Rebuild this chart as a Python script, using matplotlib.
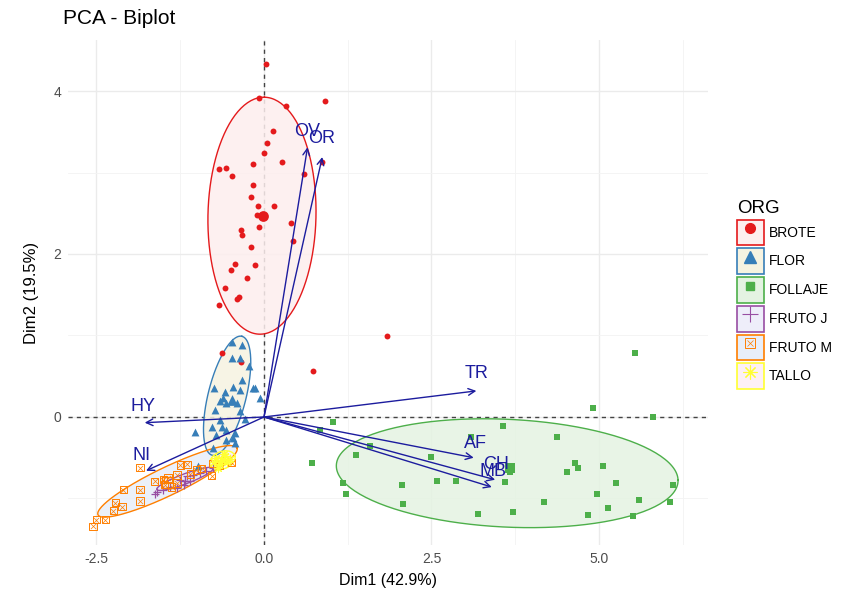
import matplotlib.pyplot as plt
import numpy as np
from matplotlib.lines import Line2D
from matplotlib.patches import Patch

plt.rcParams['font.family'] = ['Liberation Sans', 'DejaVu Sans']

# groups, colours (Set1) and ellipse fills
groups = ['BROTE', 'FLOR', 'FOLLAJE', 'FRUTO J', 'FRUTO M', 'TALLO']
colors = ['#E41A1C', '#377EB8', '#4DAF4A', '#984EA3', '#FF7F00', '#FFFF33']
fills = ['#fdeeee', '#f6f3e1', '#e4f3e2', '#eeeefa', '#e8eef8', '#fdf0f6']

# individuals (Dim1, Dim2)
brote_x = [0.03, -0.07, 0.33, 0.91, 0.14, 0.05, 0.00, 0.87, -0.67, -0.57, -0.17, 0.27,
           -0.47, 0.59, -0.16, -0.19, -0.09, 0.15, -0.11, -0.07, 0.41, -0.34, -0.33,
           0.43, -0.19, -0.43, -0.13, -0.49, -0.26, -0.58, -0.37, -0.40, -0.67, 1.84,
           0.73, -0.62, -0.35]
brote_y = [4.33, 3.92, 3.82, 3.88, 3.51, 3.36, 3.24, 3.13, 3.04, 3.05, 3.10, 3.13,
           2.96, 2.98, 2.85, 2.70, 2.59, 2.59, 2.48, 2.33, 2.38, 2.30, 2.23,
           2.16, 2.09, 1.88, 1.87, 1.80, 1.71, 1.58, 1.47, 1.45, 1.37, 0.99,
           0.56, 0.79, 0.68]

flor_x = [-0.48, -0.33, -0.48, -0.36, -0.23, -0.33, -0.74, -0.46, -0.16, -0.58, -0.36,
          -0.06, -0.61, -0.66, -0.56, -0.41, -0.73, -0.36, -0.78, -0.63, -0.56, -1.03,
          -0.43, -0.71, -0.46, -0.76, -0.98, -0.56, -0.66, -0.28, -0.43, -0.13]
flor_y = [0.92, 0.88, 0.72, 0.72, 0.62, 0.45, 0.35, 0.37, 0.35, 0.31, 0.33,
          0.23, 0.23, 0.19, 0.17, 0.17, 0.09, 0.07, -0.12, -0.12, -0.16, -0.18,
          -0.20, -0.22, -0.26, -0.38, -0.60, -0.28, -0.04, -0.02, -0.32, 0.35]

follaje_x = [5.54, 4.91, 5.81, 1.03, 3.56, 0.83, 4.38, 3.09, 1.58, 1.38, 2.50, 0.71,
             4.64, 4.69, 4.52, 5.06, 3.67, 1.18, 2.06, 2.58, 2.86, 3.59, 6.11, 5.26,
             1.23, 4.97, 5.60, 4.18, 6.06, 2.07, 5.14, 3.71, 3.20, 4.83, 5.51]
follaje_y = [0.78, 0.11, 0.00, -0.06, -0.11, -0.16, -0.25, -0.24, -0.36, -0.47, -0.49, -0.56,
             -0.56, -0.62, -0.67, -0.60, -0.67, -0.81, -0.84, -0.79, -0.79, -0.80, -0.83, -0.81,
             -0.94, -0.95, -1.02, -1.04, -1.04, -1.07, -1.12, -1.16, -1.19, -1.20, -1.22]

frutoj_x = [-1.60, -1.50, -1.40, -1.25, -1.15, -1.06, -0.96, -0.86, -1.20, -1.30, -1.10, -1.63, -0.76]
frutoj_y = [-0.92, -0.89, -0.86, -0.77, -0.73, -0.71, -0.69, -0.66, -0.83, -0.87, -0.79, -0.94, -0.63]

frutom_x = [-1.85, -1.25, -1.15, -1.63, -1.50, -1.43, -1.30, -1.48, -1.38, -1.85, -2.10, -1.30,
            -0.66, -0.56, -0.48, -0.76, -2.22, -2.12, -1.85, -2.25, -2.50, -2.55, -2.37,
            -0.93, -0.78, -1.01, -1.10]
frutom_y = [-0.62, -0.59, -0.58, -0.79, -0.77, -0.75, -0.71, -0.83, -0.86, -0.89, -0.89, -0.81,
            -0.59, -0.53, -0.56, -0.57, -1.05, -1.10, -1.03, -1.15, -1.26, -1.34, -1.26,
            -0.63, -0.72, -0.65, -0.70]

tallo_x = [-0.72, -0.60, -0.55, -0.65, -0.50, -0.68, -0.58, -0.75]
tallo_y = [-0.50, -0.45, -0.55, -0.58, -0.52, -0.62, -0.48, -0.55]

# group mean points
cent_x = [-0.01, -0.48, 3.67, -1.18, -1.44, -0.62]
cent_y = [2.47, 0.21, -0.62, -0.78, -0.80, -0.53]

# concentration ellipses: centre and two conjugate semi-axes
ell_cx = [-0.03, -0.55, 3.63, -1.18, -1.44, -0.62]
ell_cy = [2.47, 0.26, -0.69, -0.76, -0.79, -0.53]
ell_ux = [0.037, 0.221, 2.55, 0.42, 1.037, 0.187]
ell_uy = [1.454, 0.730, -0.082, 0.13, 0.411, 0.049]
ell_vx = [0.806, 0.275, 0.031, 0.027, 0.091, 0.03]
ell_vy = [-0.014, -0.056, -0.663, -0.057, -0.155, -0.104]

# variables (arrow tips and label positions)
var_names = ['OV', 'OR', 'TR', 'AF', 'CH', 'MB', 'HY', 'NI']
var_x = [0.65, 0.87, 3.17, 3.13, 3.45, 3.40, -1.78, -1.76]
var_y = [3.31, 3.19, 0.32, -0.50, -0.77, -0.86, -0.07, -0.66]
lab_x = [0.64, 0.86, 3.17, 3.15, 3.47, 3.42, -1.80, -1.83]
lab_y = [3.50, 3.42, 0.53, -0.33, -0.58, -0.67, 0.13, -0.47]

arrow_col = '#1c1c9e'

fig = plt.figure(figsize=(8.41, 5.95), dpi=100)
ax = fig.add_axes([68 / 841, 1 - 545 / 595, 640 / 841, 505 / 595])

ax.set_xlim(-2.925, 6.627)
ax.set_ylim(-1.571, 4.626)
ax.set_xticks([-2.5, 0, 2.5, 5.0])
ax.set_xticklabels(['-2.5', '0.0', '2.5', '5.0'])
ax.set_yticks([0, 2, 4])
ax.set_xticks([-1.25, 1.25, 3.75, 6.25], minor=True)
ax.set_yticks([-1, 1, 3], minor=True)
ax.grid(which='major', color='#ebebeb', linewidth=1.0)
ax.grid(which='minor', color='#f3f3f3', linewidth=0.6)
ax.set_axisbelow(True)
for s in ax.spines.values():
    s.set_visible(False)
ax.tick_params(which='both', length=0, labelsize=10, labelcolor='#4d4d4d', pad=5)

ax.axhline(0, color='#444444', linestyle=(0, (3, 3)), linewidth=1.0, zorder=1)
ax.axvline(0, color='#444444', linestyle=(0, (3, 3)), linewidth=1.0, zorder=1)

# ellipses
t = np.linspace(0, 2 * np.pi, 200)
for i in range(len(groups)):
    ex = ell_cx[i] + ell_ux[i] * np.cos(t) + ell_vx[i] * np.sin(t)
    ey = ell_cy[i] + ell_uy[i] * np.cos(t) + ell_vy[i] * np.sin(t)
    ax.fill(ex, ey, facecolor=fills[i], alpha=0.85, edgecolor='none', zorder=2)
    ax.plot(ex, ey, color=colors[i], linewidth=1.0, zorder=3)

# points
ax.scatter(brote_x, brote_y, marker='o', s=18, color=colors[0], linewidths=0, zorder=4)
ax.scatter(flor_x, flor_y, marker='^', s=32, color=colors[1], linewidths=0, zorder=4)
ax.scatter(follaje_x, follaje_y, marker='s', s=18, color=colors[2], linewidths=0, zorder=4)
ax.scatter(frutoj_x, frutoj_y, marker='+', s=40, color=colors[3], linewidths=0.9, zorder=4)
ax.scatter(frutom_x, frutom_y, marker='s', s=28, facecolors='none', edgecolors=colors[4],
           linewidths=0.7, zorder=4)
ax.scatter(frutom_x, frutom_y, marker='x', s=14, color=colors[4], linewidths=0.5, zorder=4)
ax.scatter(tallo_x, tallo_y, marker=(8, 2, 0), s=36, color=colors[5], linewidths=0.8, zorder=4)

# mean points
cent_markers = ['o', '^', 's', '+', 's', (8, 2, 0)]
for i in range(len(groups)):
    if i == 4:
        ax.scatter(cent_x[i], cent_y[i], marker='s', s=60, facecolors='none',
                   edgecolors=colors[i], linewidths=1.0, zorder=5)
    else:
        ax.scatter(cent_x[i], cent_y[i], marker=cent_markers[i], s=60, color=colors[i],
                   linewidths=1.0 if i in (3, 5) else 0, zorder=5)

# variable arrows
for i in range(len(var_names)):
    ax.annotate('', xy=(var_x[i], var_y[i]), xytext=(0, 0),
                arrowprops=dict(arrowstyle='->', color=arrow_col, lw=1.0,
                                shrinkA=0, shrinkB=0, mutation_scale=12),
                zorder=6)
    ax.text(lab_x[i], lab_y[i], var_names[i], color=arrow_col, fontsize=13,
            ha='center', va='center', zorder=7)

ax.set_xlabel('Dim1 (42.9%)', fontsize=11.5, labelpad=5)
ax.set_ylabel('Dim2 (19.5%)', fontsize=12, labelpad=10)
fig.text(63 / 841, 1 - 18 / 595, 'PCA - Biplot', fontsize=15, ha='left', va='center')

# legend
handles = []
for i in range(len(groups)):
    box = Patch(facecolor=fills[i], edgecolor=colors[i], linewidth=1.2)
    if i == 0:
        mk = Line2D([], [], marker='o', color=colors[i], linestyle='none', markersize=7)
    elif i == 1:
        mk = Line2D([], [], marker='^', color=colors[i], linestyle='none', markersize=9)
    elif i == 2:
        mk = Line2D([], [], marker='s', color=colors[i], linestyle='none', markersize=6)
    elif i == 3:
        mk = Line2D([], [], marker='+', color=colors[i], linestyle='none', markersize=11,
                    markeredgewidth=0.8)
    elif i == 4:
        mk = (Line2D([], [], marker='s', markerfacecolor='none', markeredgecolor=colors[i],
                     linestyle='none', markersize=7, markeredgewidth=0.7),
              Line2D([], [], marker='x', color=colors[i], linestyle='none', markersize=5,
                     markeredgewidth=0.5))
    else:
        mk = Line2D([], [], marker=(8, 2, 0), color=colors[i], linestyle='none', markersize=10,
                    markeredgewidth=0.8)
    if isinstance(mk, tuple):
        handles.append((box,) + mk)
    else:
        handles.append((box, mk))

leg = fig.legend(handles, groups, loc='upper left', bbox_to_anchor=(727 / 841, 1 - 190 / 595),
                 frameon=False, fontsize=10, title='ORG', title_fontsize=13.5,
                 handlelength=1.94, handleheight=2.5, labelspacing=0.2, handletextpad=0.35,
                 borderpad=0.2)
leg._legend_box.align = 'left'

fig.savefig('out.png', dpi=100)
